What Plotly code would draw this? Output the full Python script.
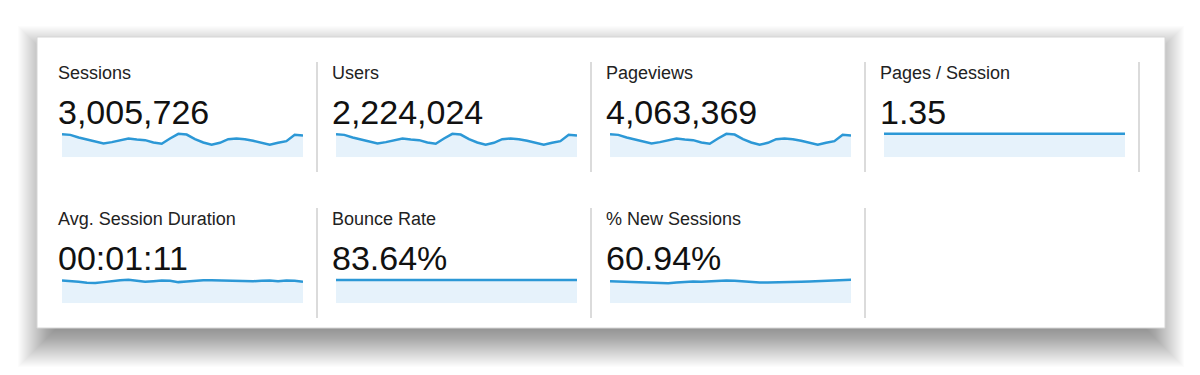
import plotly.graph_objects as go

# ---------------- data ----------------
metric_names = ["Sessions", "Users", "Pageviews", "Pages / Session",
                "Avg. Session Duration", "Bounce Rate", "% New Sessions"]
metric_totals = ["3,005,726", "2,224,024", "4,063,369", "1.35",
                 "00:01:11", "83.64%", "60.94%"]

sessions = [132310, 128470, 113420, 102080, 94460, 79410, 86920, 98300, 107750, 102040,
            98260, 85070, 77480, 107710, 134200, 130390, 103960, 85030, 71840, 83150,
            103940, 107760, 103920, 94520, 81260, 71830, 83170, 92630, 128510, 124760]
users = [97910, 95080, 83920, 75510, 69870, 58720, 64290, 72710, 79690, 75520,
         72690, 62930, 57310, 79720, 99290, 96480, 76910, 62920, 53120, 61490,
         76880, 79710, 76920, 69910, 60110, 53130, 61520, 68490, 95090, 92310]
pageviews = [178920, 173790, 153310, 138020, 127790, 107310, 117480, 132910, 145690, 138010,
             132880, 115020, 104790, 145710, 181420, 176290, 140480, 115010, 97120, 112390,
             140510, 145690, 140520, 127810, 109880, 97110, 112420, 125190, 173810, 168590]
pages_per_session = [1.35, 1.35, 1.35, 1.35, 1.35, 1.34, 1.35, 1.35, 1.35, 1.35,
                     1.35, 1.35, 1.34, 1.35, 1.35, 1.35, 1.35, 1.35, 1.35, 1.35,
                     1.35, 1.35, 1.35, 1.35, 1.35, 1.35, 1.35, 1.35, 1.35, 1.35]
avg_duration_sec = [71, 70, 67, 64, 63, 66, 70, 72, 73, 71, 67, 69, 71, 70, 66,
                    68, 71, 72, 72, 71, 71, 71, 70, 69, 70, 71, 69, 71, 70, 67]
bounce_rate = [83.6, 83.7, 83.6, 83.6, 83.5, 83.6, 83.7, 83.6, 83.6, 83.7,
               83.6, 83.6, 83.5, 83.6, 83.7, 83.7, 83.6, 83.6, 83.5, 83.6,
               83.6, 83.7, 83.6, 83.6, 83.6, 83.5, 83.6, 83.7, 83.7, 83.6]
new_sessions_pct = [61.6, 60.7, 59.8, 58.9, 58.9, 58.0, 57.0, 56.1, 58.0, 59.8,
                    60.7, 59.8, 61.6, 62.6, 63.5, 62.6, 60.7, 58.9, 58.0, 58.0,
                    58.0, 58.0, 58.9, 59.8, 60.7, 61.6, 62.6, 63.5, 64.4, 65.3]
days = list(range(1, 31))

series = [sessions, users, pageviews, pages_per_session,
          avg_duration_sec, bounce_rate, new_sessions_pct]

# ---------------- layout helpers ----------------
# page body has an 8px margin, so the figure occupies window pixels 8..1200 / 8..375
OFF = 8
W, H = 1200 - OFF, 375 - OFF
def px(x):
    return (x - OFF) / W
def py(y):
    return 1 - (y - OFF) / H

LINE = "#2c98d6"
FILL = "#e6f2fb"
FONT = "Liberation Sans, Arial, Helvetica, sans-serif"

card = (37, 37, 1165, 328)
col_x = [62, 336, 610, 884]
spark_w = 241
row_spark = [(132, 157.3), (278, 303.3)]
row_label_y = [73.3, 219.3]
row_value_y = [111.8, 257.8]
text_x = [56, 330, 604, 878]

fig = go.Figure()
layout = {}
annotations = []
for i, (name, total, vals) in enumerate(zip(metric_names, metric_totals, series)):
    row, col = divmod(i, 4)
    n = i + 1
    xa = "x" if n == 1 else f"x{n}"
    ya = "y" if n == 1 else f"y{n}"
    fig.add_trace(go.Scatter(
        x=days, y=vals, xaxis=xa, yaxis=ya, mode="lines",
        line=dict(color=LINE, width=2.5), fill="tozeroy", fillcolor=FILL,
        hoverinfo="skip", showlegend=False))
    x0 = col_x[col]
    top, bot = row_spark[row]
    layout["xaxis" if n == 1 else f"xaxis{n}"] = dict(
        domain=[px(x0), px(x0 + spark_w)], range=[days[0], days[-1]],
        visible=False, anchor=ya, fixedrange=True)
    layout["yaxis" if n == 1 else f"yaxis{n}"] = dict(
        domain=[py(bot), py(top)], range=[0, max(vals) * 1.08],
        visible=False, anchor=xa, fixedrange=True)
    annotations.append(dict(
        text=name, x=px(text_x[col]), y=py(row_label_y[row]), xref="paper", yref="paper",
        xanchor="left", yanchor="middle", showarrow=False,
        font=dict(family=FONT, size=18, color="#222222")))
    annotations.append(dict(
        text=total, x=px(text_x[col]), y=py(row_value_y[row]), xref="paper", yref="paper",
        xanchor="left", yanchor="middle", showarrow=False,
        font=dict(family=FONT, size=34, color="#111111")))

# ---------------- shapes: shadow, card, separators ----------------
shapes = []
dy = 14
for r in range(-20, 26):
    shapes.append(dict(
        type="rect", xref="paper", yref="paper", layer="below",
        x0=px(card[0] - (r - 6)), x1=px(card[2] + (r - 6)),
        y0=py(card[3] + dy + r), y1=py(card[1] + dy - r),
        line=dict(width=0), fillcolor="rgba(0,0,0,0.012)"))
shapes.append(dict(
    type="rect", xref="paper", yref="paper", layer="below",
    x0=px(card[0]), x1=px(card[2]), y0=py(card[3]), y1=py(card[1]),
    line=dict(width=1, color="#d6d6d6"), fillcolor="#ffffff"))

sep_x = [317, 591, 865, 1139]
sep_rows = [(62, 172), (208, 318)]
for row, (t, b) in enumerate(sep_rows):
    xs = sep_x if row == 0 else sep_x[:3]
    for sx in xs:
        shapes.append(dict(
            type="line", xref="paper", yref="paper", layer="above",
            x0=px(sx), x1=px(sx), y0=py(t), y1=py(b),
            line=dict(width=1.5, color="#cfcfcf")))

fig.update_layout(
    width=W, height=H, margin=dict(l=0, r=0, t=0, b=0),
    paper_bgcolor="#ffffff", plot_bgcolor="rgba(0,0,0,0)",
    shapes=shapes, annotations=annotations, showlegend=False,
    **layout)

fig.write_html("out.html", config={"displayModeBar": False})
